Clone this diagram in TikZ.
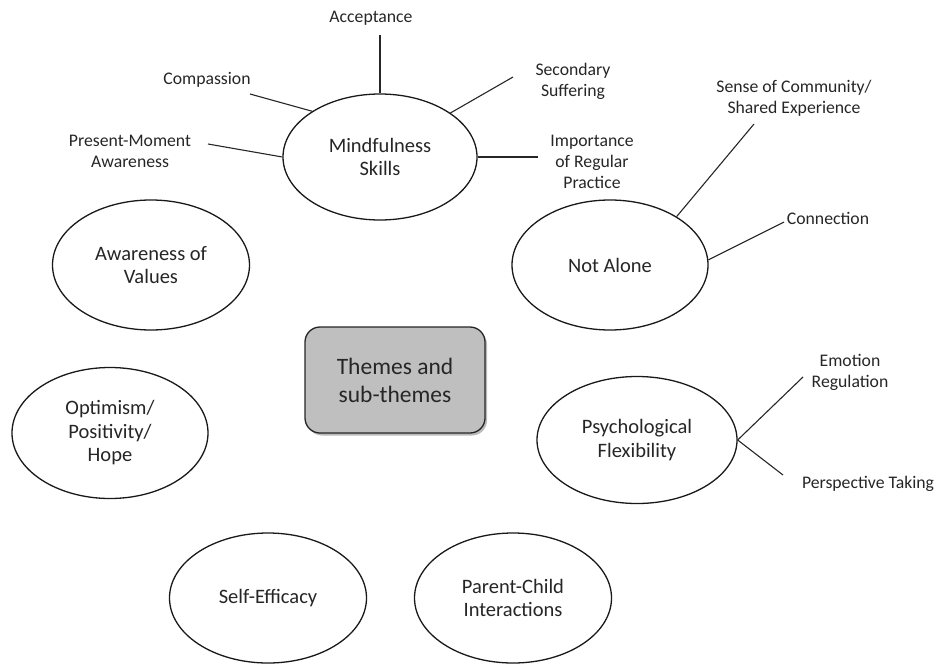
\documentclass[tikz,border=0pt]{standalone}
\usepackage{fontspec}
\setmainfont{Carlito}
\usetikzlibrary{shapes.geometric,shadows}
\begin{document}
\begin{tikzpicture}[x=1pt,y=-1pt,
  theme/.style={ellipse,draw=black!90,line width=1.3pt,fill=white,inner sep=0pt,align=center,
    font=\fontsize{20.5}{23.5}\selectfont,text=black!85},
  sub/.style={align=center,inner sep=0pt,font=\fontsize{17.7}{21}\selectfont,text=black!85},
  link/.style={draw=black!85,line width=1.1pt},
  hub/.style={draw=black!85,line width=1.3pt,rounded corners=15pt,fill=black!25,
    minimum width=180pt,minimum height=106pt,align=center,
    font=\fontsize{23.5}{28}\selectfont,text=black!85,
    drop shadow={shadow xshift=2pt,shadow yshift=-2.5pt,opacity=0.45,fill=black!60}}
]
\useasboundingbox (0,0) rectangle (944,664);

% theme nodes
\node[theme,minimum width=194pt,minimum height=126pt] (mind) at (380,157) {Mindfulness\\Skills};
\node[theme,minimum width=196pt,minimum height=130pt] (alone) at (610,265) {Not Alone};
\node[theme,minimum width=197pt,minimum height=130pt] (aware) at (151,265) {Awareness of\\Values};
\node[theme,minimum width=196pt,minimum height=131pt] (optim) at (110,433) {Optimism/\\Positivity/\\Hope};
\node[theme,minimum width=200pt,minimum height=127pt] (psych) at (637,440) {Psychological\\Flexibility};
\node[theme,minimum width=197pt,minimum height=130pt] (self) at (268,598) {Self-Efficacy};
\node[theme,minimum width=197pt,minimum height=130pt] (parent) at (513,598) {Parent-Child\\Interactions};

\node[hub] (hub) at (395,380) {Themes and\\sub-themes};

% sub-theme labels
\node[sub] (acc) at (371,18) {Acceptance};
\node[sub] (comp) at (207,80) {Compassion};
\node[sub] (pres) at (130,151) {Present-Moment\\Awareness};
\node[sub] (sec) at (573,81) {Secondary\\Suffering};
\node[sub] (imp) at (592,162) {Importance\\of Regular\\Practice};
\node[sub] (sense) at (794,98) {Sense of Community/\\Shared Experience};
\node[sub] (conn) at (828,218) {Connection};
\node[sub] (emo) at (850,372) {Emotion\\Regulation};
\node[sub] (persp) at (868,484) {Perspective Taking};

% free ends of connectors
\coordinate (accE) at (380,35);
\coordinate (compE) at (250,94);
\coordinate (presE) at (208,144);
\coordinate (secE) at (513,77);
\coordinate (impE) at (538,157);
\coordinate (senseE) at (754,124);
\coordinate (connE) at (784,222);
\coordinate (emoE) at (803,377);
\coordinate (perspE) at (783,475);

\draw[link] (accE) -- (mind.north);
\draw[link] (compE) -- (mind.146.5);
\draw[link] (presE) -- (mind.west);
\draw[link] (secE) -- (mind.32);
\draw[link] (impE) -- (mind.east);
\draw[link] (senseE) -- (alone.36);
\draw[link] (connE) -- (alone.3);
\draw[link] (emoE) -- (psych.east);
\draw[link] (perspE) -- (psych.east);
\end{tikzpicture}
\end{document}
